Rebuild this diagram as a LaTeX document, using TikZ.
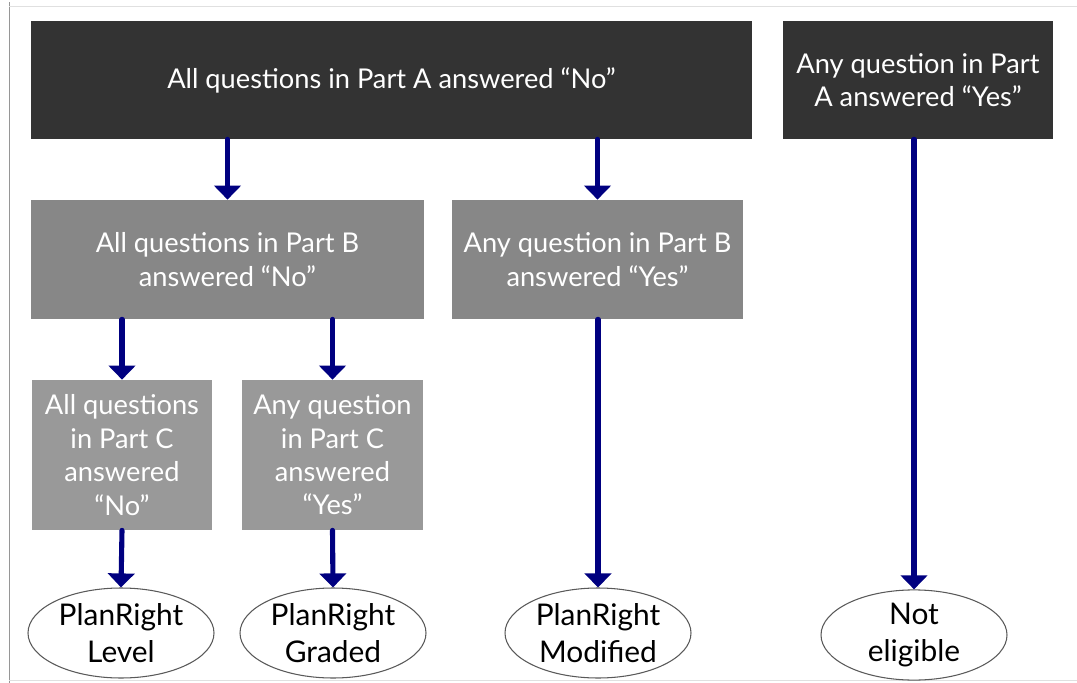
\documentclass[tikz,border=0pt]{standalone}
\usepackage{fontspec}
\setmainfont{Lato}
\usepackage{xcolor}
\usetikzlibrary{arrows.meta,shapes.geometric}
\definecolor{parta}{RGB}{51, 51, 51}
\definecolor{partb}{RGB}{135, 135, 135}
\definecolor{partc}{RGB}{153, 153, 153}
\definecolor{flow}{RGB}{0, 0, 128}
\definecolor{frame}{RGB}{150, 150, 150}

\tikzset{
  qbox/.style={rectangle, text=white, align=center, inner sep=0pt,
    font=\fontsize{15.5}{19}\selectfont},
  outcome/.style={ellipse, draw=black!65, semithick, fill=white, align=center,
    minimum width=3.72cm, minimum height=1.8cm, inner sep=0pt,
    font=\fontsize{17}{21}\selectfont},
  flowarrow/.style={draw=flow, line width=2.9pt, line cap=round,
    -{Triangle[width=15pt,length=8pt]}}
}

\begin{document}
\begin{tikzpicture}
      \useasboundingbox (0,0) rectangle (21.54,-13.66);
      \draw[color=frame, thin] (0.18, -0.05)--(0.18, -13.66);
      \draw[color=black!12, thin] (0.18, -0.12)--(21.54, -0.12);
      \draw[color=black!12, thin] (0.18, -13.6)--(21.54, -13.6);

      % part A
      \node[qbox, fill=parta, minimum width=14.42cm, minimum height=2.36cm] (aNo) at (7.83, -1.60)
        {All questions in Part A answered “No”};
      \node[qbox, fill=parta, minimum width=5.40cm, minimum height=2.36cm] (aYes) at (18.36, -1.60)
        {Any question in Part\\A answered “Yes”};

      % part B
      \node[qbox, fill=partb, minimum width=7.86cm, minimum height=2.38cm] (bNo) at (4.55, -5.19)
        {All questions in Part B\\answered “No”};
      \node[qbox, fill=partb, minimum width=5.82cm, minimum height=2.38cm] (bYes) at (11.95, -5.19)
        {Any question in Part B\\answered “Yes”};

      % part C
      \node[qbox, fill=partc, minimum width=3.60cm, minimum height=3.00cm] (cNo) at (2.44, -9.10)
        {All questions\\in Part C\\answered\\“No”};
      \node[qbox, fill=partc, minimum width=3.62cm, minimum height=3.00cm] (cYes) at (6.65, -9.10)
        {Any question\\in Part C\\answered\\“Yes”};

      % outcomes
      \node[outcome] (level) at (2.42, -12.66) {PlanRight\\Level};
      \node[outcome] (graded) at (6.66, -12.66) {PlanRight\\Graded};
      \node[outcome] (modified) at (11.96, -12.66) {PlanRight\\Modified};
      \node[outcome] (notEl) at (18.28, -12.70) {Not\\eligible};

      \draw[flowarrow] (bNo.north |- aNo.south)--(bNo.north);
      \draw[flowarrow] (bYes.north |- aNo.south)--(bYes.north);
      \draw[flowarrow] (notEl.north |- aYes.south)--(notEl.north);
      \draw[flowarrow] (cNo.north |- bNo.south)--(cNo.north);
      \draw[flowarrow] (cYes.north |- bNo.south)--(cYes.north);
      \draw[flowarrow] (modified.north |- bYes.south)--(modified.north);
      \draw[flowarrow] (cNo.south)--(level.north);
      \draw[flowarrow] (cYes.south)--(graded.north);
    \end{tikzpicture}
\end{document}
